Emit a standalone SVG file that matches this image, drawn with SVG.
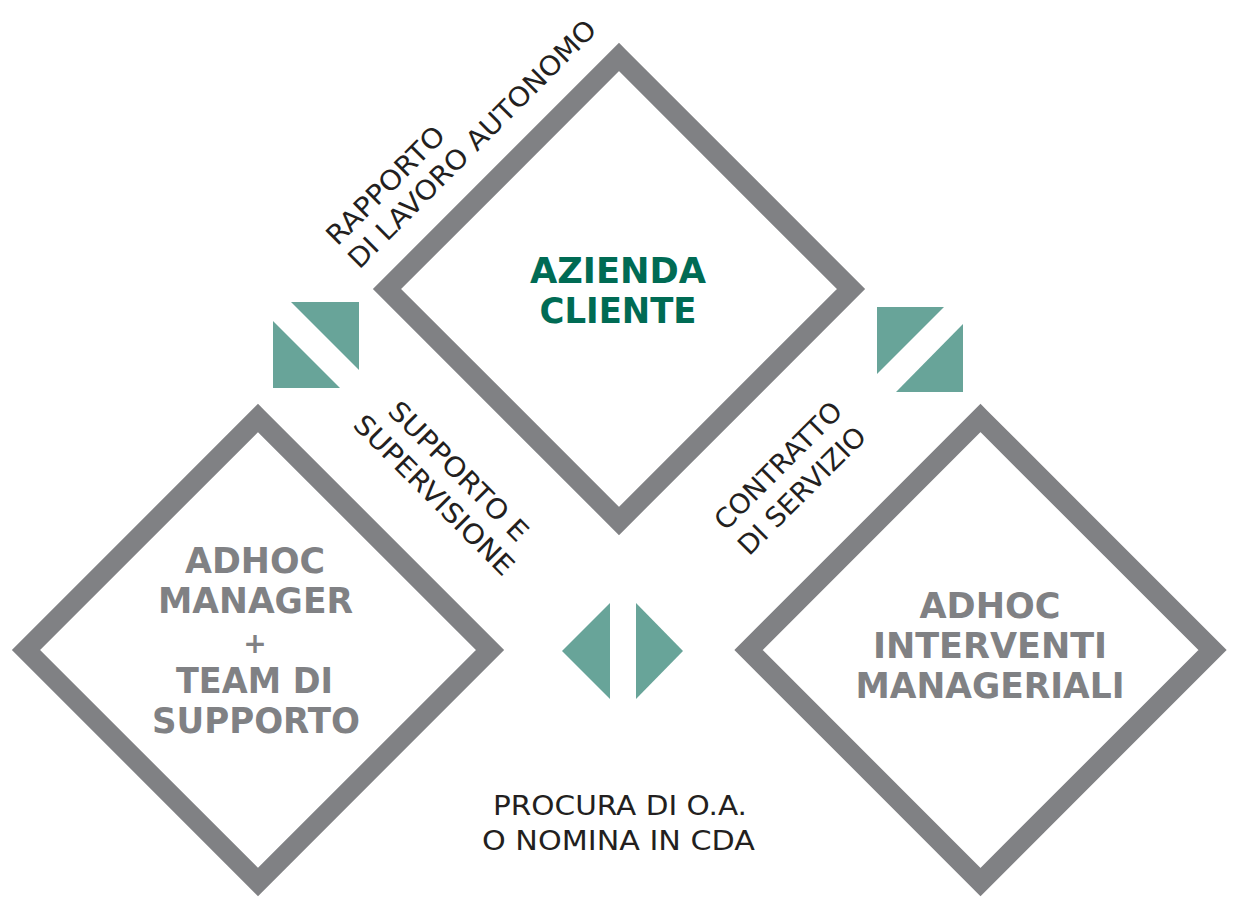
<svg xmlns="http://www.w3.org/2000/svg" width="1240" height="924" viewBox="0 0 1240 924">
<style>
.dia{fill:none;stroke:#808184;stroke-width:20;stroke-linejoin:miter}
.tri{fill:#68a499}
.title{font-family:"DejaVu Sans",sans-serif;font-weight:bold;font-size:35px;text-anchor:middle}
.green{fill:#006b54}
.gray{fill:#808184}
.lbl{font-family:"DejaVu Sans",sans-serif;font-size:27px;fill:#231f20}
</style>
<rect width="1240" height="924" fill="#ffffff"/>
<g id="connectors">
<polygon class="tri" points="291,302 359,302 359,370"/>
<polygon class="tri" points="273,321 273,388 340,388"/>
<polygon class="tri" points="877,307 944,307 877,374"/>
<polygon class="tri" points="963,324 963,392 896,392"/>
<polygon class="tri" points="562,651 610,603 610,699"/>
<polygon class="tri" points="636,603 683,651 636,699"/>
<text class="lbl" transform="translate(337.3,246.8) rotate(-45)" textLength="155" lengthAdjust="spacingAndGlyphs">RAPPORTO</text>
<text class="lbl" transform="translate(359.2,270.1) rotate(-45)" textLength="338" lengthAdjust="spacingAndGlyphs">DI LAVORO AUTONOMO</text>
<text class="lbl" transform="translate(452,477.8) rotate(45)" text-anchor="middle" textLength="185" lengthAdjust="spacingAndGlyphs">SUPPORTO E</text>
<text class="lbl" transform="translate(427.5,501.6) rotate(45)" text-anchor="middle" textLength="214" lengthAdjust="spacingAndGlyphs">SUPERVISIONE</text>
<text class="lbl" transform="translate(725.4,531.7) rotate(-45)" textLength="168" lengthAdjust="spacingAndGlyphs">CONTRATTO</text>
<text class="lbl" transform="translate(749.1,556.8) rotate(-45)" textLength="168" lengthAdjust="spacingAndGlyphs">DI SERVIZIO</text>
<text class="lbl" x="620" y="815" text-anchor="middle" textLength="254" lengthAdjust="spacingAndGlyphs">PROCURA DI O.A.</text>
<text class="lbl" x="618.5" y="850" text-anchor="middle" textLength="273" lengthAdjust="spacingAndGlyphs">O NOMINA IN CDA</text>
</g>
<g id="azienda-cliente">
<polygon class="dia" points="619,57 851,289 619,521 387,289"/>
<text class="title green" x="618" y="283" textLength="176" lengthAdjust="spacingAndGlyphs">AZIENDA</text>
<text class="title green" x="618" y="323" textLength="157" lengthAdjust="spacingAndGlyphs">CLIENTE</text>
</g>
<g id="adhoc-manager">
<polygon class="dia" points="258,418 490,650 258,882 26,650"/>
<text class="title gray" x="255" y="573" textLength="140" lengthAdjust="spacingAndGlyphs">ADHOC</text>
<text class="title gray" x="255.5" y="613" textLength="195" lengthAdjust="spacingAndGlyphs">MANAGER</text>
<text class="title gray" x="255" y="652.5" style="font-size:28px">+</text>
<text class="title gray" x="254.5" y="693" textLength="157" lengthAdjust="spacingAndGlyphs">TEAM DI</text>
<text class="title gray" x="256" y="733" textLength="208" lengthAdjust="spacingAndGlyphs">SUPPORTO</text>
</g>
<g id="adhoc-interventi">
<polygon class="dia" points="980.5,418 1212.5,650 980.5,882 748.5,650"/>
<text class="title gray" x="990" y="618" textLength="141" lengthAdjust="spacingAndGlyphs">ADHOC</text>
<text class="title gray" x="990" y="658">INTERVENTI</text>
<text class="title gray" x="990" y="698" textLength="269" lengthAdjust="spacingAndGlyphs">MANAGERIALI</text>
</g>
</svg>
